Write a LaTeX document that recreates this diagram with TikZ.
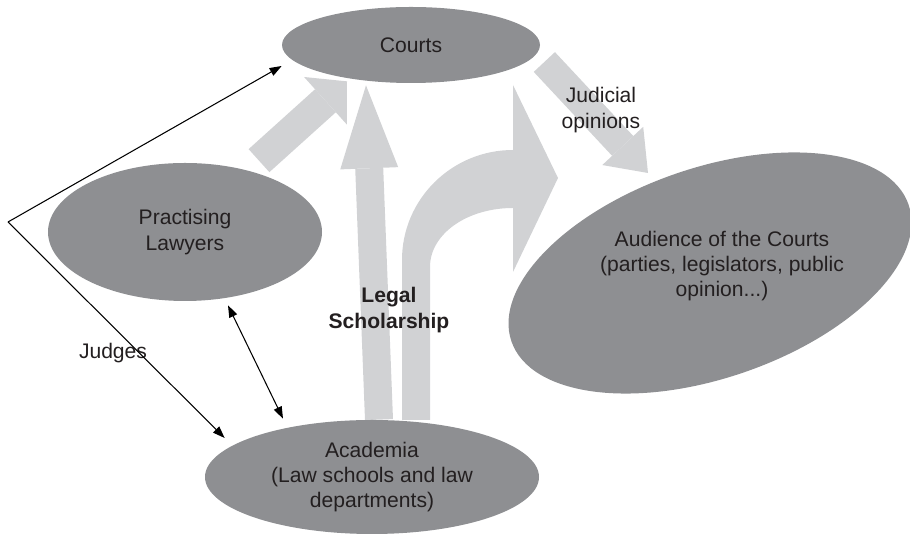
\documentclass[tikz,border=0pt]{standalone}
\usepackage{fontspec}
\setmainfont{Liberation Sans}
\usetikzlibrary{shapes,arrows.meta,positioning,backgrounds}

\definecolor{blobgray}{HTML}{8E8F92}
\definecolor{flowgray}{HTML}{D1D2D4}
\definecolor{inkdark}{HTML}{231F20}

\tikzset{
    blob/.style={ellipse, fill=blobgray, inner sep=0pt, align=center, text=inkdark,
        font=\fontsize{12}{14.4}\selectfont},
    plain text/.style={align=center, text=inkdark, font=\fontsize{12}{14.4}\selectfont},
    flow/.style={draw=flowgray, line cap=butt},
    inktip/.tip={Triangle[length=0.24cm,width=0.17cm]},
    link/.style={draw=black, line width=0.6pt, -inktip}
}

\begin{document}
\begin{tikzpicture}
    \useasboundingbox (0,0) rectangle (18.2,-10.72);

    % Actors
    \node[blob, minimum width=5.16cm, minimum height=1.52cm] (courts) at (8.22,-0.9) {Courts};
    \node[blob, minimum width=5.48cm, minimum height=2.76cm] (lawyers) at (3.7,-4.64) {Practising\\Lawyers};
    \node[blob, minimum width=6.68cm, minimum height=2.28cm] (academia) at (7.44,-9.54)
        {Academia\\(Law schools and law\\departments)};
    \node[blob, minimum width=8.4cm, minimum height=4.2cm, rotate=19] (audience) at (14.2,-5.46) {};
    \node[plain text] (audiencetext) at (14.44,-5.32)
        {Audience of the Courts\\(parties, legislators, public\\opinion...)};

    % Flows (grey block arrows)
    \begin{scope}[on background layer]
        \draw[flow, line width=0.62cm, -{Triangle[width=1.28cm,length=0.58cm,line width=0pt]}]
            ([shift={(1.48,0.04)}]lawyers.north) -- ([shift={(-1.28,0.04)}]courts.south);
        \draw[flow, line width=0.56cm, -{Triangle[width=1.16cm,length=1.66cm,line width=0pt]}]
            ([xshift=0.14cm]academia.north) -- ([shift={(-0.9,-0.04)}]courts.south);
        \draw[flow, line width=0.58cm, -{Triangle[width=1.12cm,length=0.74cm,line width=0pt]}]
            ([shift={(0.08,-0.34)}]courts.east) -- (12.96,-3.46);
        % bent arrow towards the audience
        \fill[flowgray] (8.04,-8.40) -- (8.04,-5.20)
            .. controls (8.04,-3.98) and (9.04,-3.00) .. (10.26,-3.00)
            -- (10.26,-1.70) -- (11.16,-3.56) -- (10.26,-5.44) -- (10.26,-4.16)
            .. controls (9.34,-4.16) and (8.60,-4.68) .. (8.60,-5.34)
            -- (8.60,-8.40) -- cycle;
    \end{scope}

    % Labels
    \node[plain text, font=\fontsize{12}{14.4}\selectfont\bfseries] (scholarship) at (7.78,-6.2) {Legal\\Scholarship};
    \node[plain text] (opinions) at (12.02,-2.2) {Judicial\\opinions};
    \node[plain text] (judges) at (2.26,-7.06) {Judges};

    % Judges and exchanges
    \coordinate (fork) at (0.16,-4.44);
    \draw[link] (fork) -- ([yshift=-0.42cm]courts.west);
    \draw[link] (fork) -- ([shift={(0.4,0.78)}]academia.west);
    \draw[link, inktip-inktip] ([shift={(0.86,-0.08)}]lawyers.south) -- ([shift={(-1.78,0.02)}]academia.north);
\end{tikzpicture}
\end{document}
